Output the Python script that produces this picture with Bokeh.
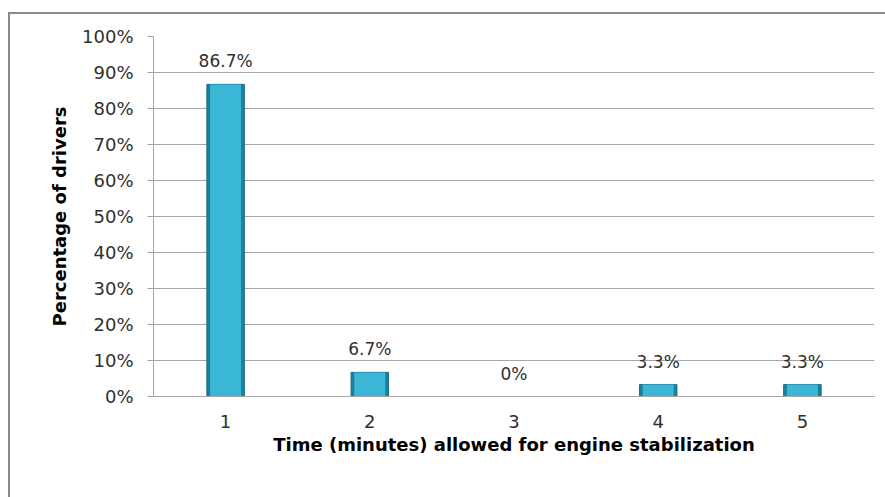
from bokeh.plotting import figure
from bokeh.models import ColumnDataSource, PrintfTickFormatter, FixedTicker, Range1d, LabelSet
from bokeh.core.properties import value
from bokeh.embed import file_html
from bokeh.resources import INLINE

# data
categories = ["1", "2", "3", "4", "5"]
percentages = [86.7, 6.7, 0.0, 3.3, 3.3]
labels = ["86.7%", "6.7%", "0%", "3.3%", "3.3%"]
y_ticks = [0, 10, 20, 30, 40, 50, 60, 70, 80, 90, 100]

src = ColumnDataSource(dict(cat=categories, val=percentages, lab=labels))

FONT = "DejaVu Sans"
TXT = "#303030"

p = figure(x_range=categories, y_range=Range1d(0, 100),
           width=877, height=485, output_backend="svg", toolbar_location=None,
           min_border_left=143, min_border_top=22, min_border_right=13, min_border_bottom=103)
p.margin = (12, 0, 0, 8)
p.styles = {"border-top": "2px solid #8a8a8a", "border-left": "2px solid #8a8a8a"}

p.outline_line_color = None
p.background_fill_color = "white"
p.border_fill_color = "white"

# bars
p.vbar(x="cat", top="val", bottom=0, width=0.26, source=src,
       fill_color="#1f7f9a", line_color="#1b6f86", line_width=1)
p.vbar(x="cat", top="val", bottom=0, width=0.215, source=src,
       fill_color="#3ab6d6", line_color=None)

# value labels
lbl = LabelSet(x="cat", y="val", text="lab", source=src, text_align="center",
               text_baseline="bottom", y_offset=13, text_font=value(FONT),
               text_font_size="17px", text_color=TXT)
p.add_layout(lbl)

# grid
p.xgrid.grid_line_color = None
p.ygrid.grid_line_color = "#a6a6a6"
p.ygrid.grid_line_width = 1
p.ygrid.ticker = FixedTicker(ticks=y_ticks)

# y axis
p.yaxis.ticker = FixedTicker(ticks=y_ticks)
p.yaxis.formatter = PrintfTickFormatter(format="%d%%")
p.yaxis.axis_line_color = "#a6a6a6"
p.yaxis.major_tick_line_color = "#a6a6a6"
p.yaxis.major_tick_out = 6
p.yaxis.major_tick_in = 0
p.yaxis.minor_tick_line_color = None
p.yaxis.major_label_standoff = 14
p.yaxis.major_label_text_font = FONT
p.yaxis.major_label_text_font_size = "18px"
p.yaxis.major_label_text_color = TXT
p.yaxis.axis_label = "Percentage of drivers"
p.yaxis.axis_label_text_font = FONT
p.yaxis.axis_label_text_font_size = "18px"
p.yaxis.axis_label_text_font_style = "bold"
p.yaxis.axis_label_text_color = "#000000"
p.yaxis.axis_label_standoff = 9

# x axis
p.xaxis.axis_line_color = "#a6a6a6"
p.xaxis.major_tick_line_color = None
p.xaxis.minor_tick_line_color = None
p.xaxis.major_label_standoff = 12
p.xaxis.major_label_text_font = FONT
p.xaxis.major_label_text_font_size = "18px"
p.xaxis.major_label_text_color = TXT
p.xaxis.axis_label = "Time (minutes) allowed for engine stabilization"
p.xaxis.axis_label_text_font = FONT
p.xaxis.axis_label_text_font_size = "18px"
p.xaxis.axis_label_text_font_style = "bold"
p.xaxis.axis_label_text_color = "#000000"
p.xaxis.axis_label_standoff = 3

open("out.html", "w").write(file_html(p, INLINE))
